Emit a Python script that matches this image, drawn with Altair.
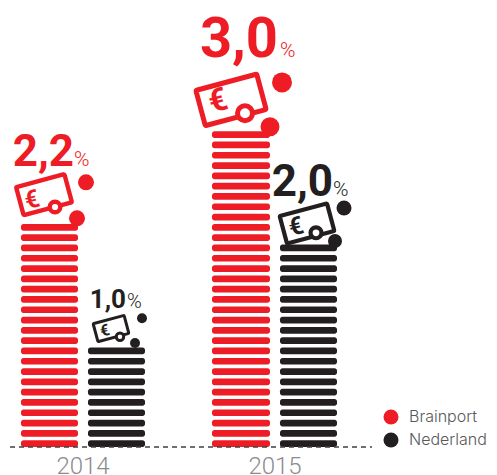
import altair as alt
import pandas as pd

RED, BLACK, GREY = "#ee1c25", "#231f20", "#8a8c8e"
PITCH = 0.1

# bars
bar_x0 = [21, 88, 212, 280]
bar_x1 = [78, 145, 270, 337]
bar_series = ["Brainport", "Nederland", "Brainport", "Nederland"]
bar_values = [2.2, 1.0, 3.0, 2.0]
bar_stripes = [22, 10, 31, 20]

rows = []
for x0, x1, s, n in zip(bar_x0, bar_x1, bar_series, bar_stripes):
    for i in range(n):
        rows.append({"x0": x0, "x1": x1, "series": s, "y0": i * PITCH, "y1": i * PITCH + 0.065})
stripes = pd.DataFrame(rows)

# annotations: one entry per bar
ann_color = [RED, BLACK, RED, BLACK]
note_x = [44, 111, 231, 307]
note_h = [2.45, 1.15, 3.37, 2.17]
note_scale = [50, 32, 63, 49]
note_sw = [4.4, 3, 5, 4.2]
coin_x = [55, 120, 245, 316]
coin_h = [2.33, 1.07, 3.24, 2.08]
coin_size = [112, 56, 225, 120]
euro_x = [32, 105, 218, 296]
euro_h = [2.40, 1.13, 3.36, 2.14]
euro_fs = [25, 16, 32, 25]
dot_x = [86, 142, 282, 344]
dot_h = [2.57, 1.25, 3.54, 2.32]
dot_size = [256, 100, 400, 225]
low_x = [77, 135, 270, 335]
low_h = [2.22, 1.01, 3.11, 2.0]
low_size = [256, 100, 360, 196]
label_txt = ["2,2", "1,0", "3,0", "2,0"]
label_x = [74, 126, 278, 333]
label_h = [2.73, 1.35, 3.79, 2.44]
label_fs = [44, 26, 56, 44]
pct_x = [74, 127, 280, 333]
pct_fs = [21, 20, 21, 21]

ann = pd.DataFrame(dict(color=ann_color, note_x=note_x, note_h=note_h, note_size=[s * s for s in note_scale],
                        note_sw=note_sw, coin_x=coin_x, coin_h=coin_h, coin_size=coin_size, euro_x=euro_x,
                        euro_h=euro_h, euro_fs=euro_fs, dot_x=dot_x, dot_h=dot_h, dot_size=dot_size,
                        low_x=low_x, low_h=low_h, low_size=low_size, label=label_txt, label_x=label_x,
                        label_h=label_h, label_fs=label_fs, pct_x=pct_x, pct_fs=pct_fs))
ann["pct"] = "%"

X = alt.Scale(domain=[8, 489], range=[0, 481])
Y = alt.Scale(domain=[(447 - 475) / 103, (447 - 8) / 103], range=[467, 0])


def xq(f):
    return alt.X(f, type="quantitative", scale=X, axis=None)


def yq(f):
    return alt.Y(f, type="quantitative", scale=Y, axis=None)


col = alt.Color("color:N", scale=None)
base = alt.Chart(ann)

bars = alt.Chart(stripes).mark_rect(cornerRadius=2.5).encode(
    x=xq("x0"), x2="x1:Q", y=yq("y0"), y2="y1:Q",
    color=alt.Color("series:N", scale=alt.Scale(domain=["Brainport", "Nederland"], range=[RED, BLACK]),
                    legend=alt.Legend(title=None, orient="none", legendX=375, legendY=401, symbolType="circle",
                                      symbolSize=225, symbolStrokeWidth=0, labelFont="Inter", labelFontWeight=300,
                                      labelFontSize=16, labelColor="#58595b", rowPadding=7, labelOffset=10)),
)

base_line = alt.Chart(pd.DataFrame({"x0": [10], "x1": [372], "y": [0]})).mark_rule(
    color="#414042", strokeWidth=1.4, strokeDash=[5, 4]).encode(x=xq("x0"), x2="x1:Q", y=yq("y"))

years = alt.Chart(pd.DataFrame({"x": [83, 275], "y": [-0.262, -0.262], "t": ["2014", "2015"]})).mark_text(
    font="Roboto", fontWeight=300, fontSize=24, color=GREY, baseline="alphabetic").encode(
    x=xq("x"), y=yq("y"), text="t:N")

RRECT = "M-.95,-.58 L.95,-.58 Q1,-.58 1,-.53 L1,.53 Q1,.58 .95,.58 L-.95,.58 Q-1,.58 -1,.53 L-1,-.53 Q-1,-.58 -.95,-.58 Z"
note = base.mark_point(shape=RRECT, filled=False, angle=345, opacity=1).encode(
    x=xq("note_x"), y=yq("note_h"), size=alt.Size("note_size:Q", scale=None),
    stroke=alt.Stroke("color:N", scale=None), strokeWidth=alt.StrokeWidth("note_sw:Q", scale=None))
coin = base.mark_point(shape="circle", filled=True, fill="white", opacity=1, fillOpacity=1).encode(
    x=xq("coin_x"), y=yq("coin_h"), size=alt.Size("coin_size:Q", scale=None),
    stroke=alt.Stroke("color:N", scale=None), strokeWidth=alt.StrokeWidth("note_sw:Q", scale=None))
euro = base.mark_text(font="Roboto", fontWeight="bold", angle=345).encode(
    x=xq("euro_x"), y=yq("euro_h"), text=alt.value("€"), color=col, size=alt.Size("euro_fs:Q", scale=None))
dot = base.mark_circle(opacity=1).encode(
    x=xq("dot_x"), y=yq("dot_h"), size=alt.Size("dot_size:Q", scale=None), color=col)
low = base.mark_circle(opacity=1).encode(
    x=xq("low_x"), y=yq("low_h"), size=alt.Size("low_size:Q", scale=None), color=col)
label = base.mark_text(font="Roboto", fontWeight="bold", baseline="alphabetic", align="right").encode(
    x=xq("label_x"), y=yq("label_h"), text="label:N", color=col, size=alt.Size("label_fs:Q", scale=None))
pct = base.mark_text(font="Roboto", fontWeight=300, baseline="alphabetic", align="left").encode(
    x=xq("pct_x"), y=yq("label_h"), text="pct:N", color=col, size=alt.Size("pct_fs:Q", scale=None))

chart = alt.layer(bars, base_line, years, note, coin, euro, low, dot, label, pct).properties(
    width=481, height=467, padding=0, autosize=alt.AutoSizeParams(type="none"),
).configure_view(stroke=None)

chart.save("out.html", embed_options={"renderer": "svg", "actions": False})
